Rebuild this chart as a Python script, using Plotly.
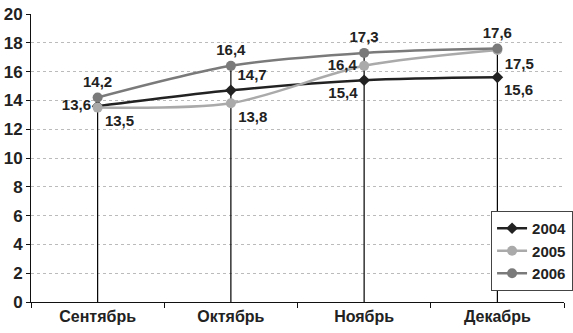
import plotly.graph_objects as go

months = ["Сентябрь", "Октябрь", "Ноябрь", "Декабрь"]
y2004 = [13.6, 14.7, 15.4, 15.6]
y2005 = [13.5, 13.8, 16.4, 17.5]
y2006 = [14.2, 16.4, 17.3, 17.6]
pos2004 = ["middle left", "top right", "bottom left", "bottom right"]
pos2005 = ["bottom right", "bottom right", "middle left", "bottom right"]
pos2006 = ["top center", "top center", "top center", "top center"]

FONT = "Liberation Sans, Arial, sans-serif"

fig = go.Figure()

# drop lines from max value to axis
dx, dy = [], []
for i, m in enumerate(months):
    top = max(y2004[i], y2005[i], y2006[i])
    dx += [m, m, None]
    dy += [0, top, None]
fig.add_trace(go.Scatter(x=dx, y=dy, mode="lines", line=dict(color="#000", width=1.2),
                         showlegend=False, hoverinfo="skip"))

series = [
    ("2004", y2004, pos2004, "#222222", "diamond", 9),
    ("2005", y2005, pos2005, "#aaaaaa", "circle", 10),
    ("2006", y2006, pos2006, "#7a7a7a", "circle", 10),
]
for name, ys, pos, col, sym, ms in series:
    fig.add_trace(go.Scatter(
        x=months, y=ys, name=name, mode="lines+markers+text",
        line=dict(color=col, width=2.5, shape="spline", smoothing=0.8),
        marker=dict(color=col, symbol=sym, size=ms),
        text=ys, texttemplate="%{y:.1f}", textposition=pos,
        textfont=dict(family=FONT, size=15, color="#222", weight="bold"),
        cliponaxis=False,
    ))

fig.update_layout(
    width=573, height=333,
    margin=dict(l=31, r=9, t=14, b=31, autoexpand=False),
    paper_bgcolor="white", plot_bgcolor="white",
    separators=", ",
    font=dict(family=FONT, size=15, color="#222"),
    showlegend=True,
    legend=dict(x=1.017, xanchor="right", y=0.316, yanchor="top",
                bordercolor="#444", borderwidth=1, bgcolor="white",
                itemwidth=30,
                font=dict(family=FONT, size=15, color="#222", weight="bold"),
                tracegroupgap=0),
)
fig.update_xaxes(type="category", showline=True, linecolor="#111", linewidth=1,
                 ticks="outside", tickson="boundaries", ticklen=5, tickcolor="#111",
                 showgrid=False, range=[-0.5, 3.5], automargin=False,
                 tickfont=dict(family=FONT, size=16, color="#222", weight="bold"))
fig.update_yaxes(range=[0, 20], dtick=2, showline=True, linecolor="#111", linewidth=1,
                 ticks="outside", ticklen=4, tickcolor="#111",
                 showgrid=True, gridcolor="#bbbbbb", griddash="dot", gridwidth=1,
                 zeroline=False, automargin=False, ticklabelstandoff=0,
                 tickfont=dict(family=FONT, size=17, color="#222", weight="bold"))

fig.write_html("out.html", config={"displayModeBar": False},
               post_script="document.body.style.margin='0';document.body.style.padding='0';")
